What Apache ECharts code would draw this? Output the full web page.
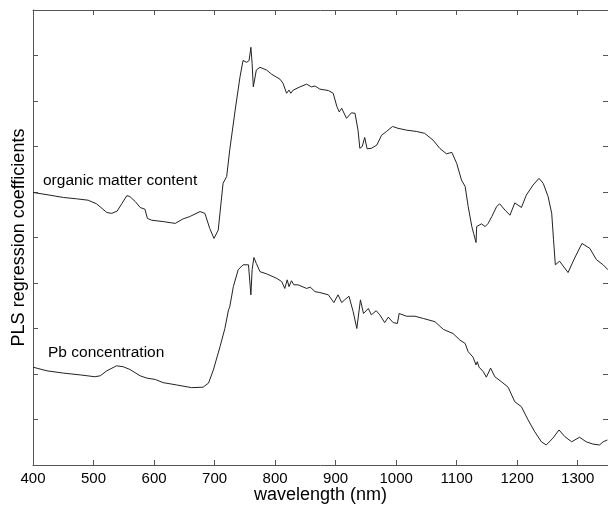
<!DOCTYPE html>
<html>
<head>
<meta charset="utf-8">
<script src="https://cdn.jsdelivr.net/npm/echarts@6/dist/echarts.min.js"></script>
<style>
  html, body { margin: 0; padding: 0; background: #fff; }
  #chart { width: 608px; height: 505px; }
</style>
</head>
<body>
<div id="chart"></div>
<script>
// PLS regression coefficient spectra (arbitrary, offset units)
const xTicks = [400, 500, 600, 700, 800, 900, 1000, 1100, 1200, 1300];

const omWavelength = [400, 428, 450, 472, 491, 505, 522, 530, 539, 547, 555, 560, 569, 577, 585, 589, 596, 615, 635, 648, 659, 676, 684, 692, 699, 706, 714, 720, 725, 734, 742, 747, 753, 757, 760, 762, 764, 767, 769, 775, 786, 794, 808, 813, 819, 823, 826, 830, 841, 852, 860, 866, 874, 888, 896, 902, 906, 910, 918, 926, 932, 937, 940, 944, 948, 952, 959, 968, 976, 984, 994, 1003, 1017, 1034, 1047, 1061, 1072, 1083, 1092, 1100, 1108, 1114, 1119, 1125, 1128, 1132, 1133, 1141, 1147, 1152, 1158, 1166, 1171, 1180, 1188, 1196, 1207, 1215, 1226, 1236, 1243, 1251, 1257, 1260, 1263, 1270, 1284, 1295, 1307, 1320, 1331, 1342, 1350];
const omCoef = [5.99, 5.93, 5.88, 5.85, 5.82, 5.74, 5.55, 5.53, 5.58, 5.75, 5.92, 5.90, 5.79, 5.66, 5.62, 5.42, 5.38, 5.35, 5.31, 5.41, 5.46, 5.57, 5.53, 5.20, 4.98, 5.16, 6.19, 6.34, 6.92, 7.80, 8.53, 8.89, 8.85, 8.89, 9.18, 8.83, 8.31, 8.35, 8.68, 8.74, 8.68, 8.59, 8.48, 8.39, 8.17, 8.24, 8.17, 8.24, 8.31, 8.37, 8.31, 8.33, 8.26, 8.23, 8.17, 7.88, 7.76, 7.84, 7.62, 7.74, 7.73, 7.36, 6.96, 7.00, 7.20, 6.95, 6.96, 7.03, 7.25, 7.33, 7.44, 7.40, 7.36, 7.33, 7.29, 7.14, 6.96, 6.84, 6.87, 6.63, 6.26, 6.12, 5.68, 5.24, 5.09, 4.89, 5.24, 5.30, 5.24, 5.31, 5.46, 5.68, 5.74, 5.60, 5.49, 5.76, 5.66, 5.93, 6.15, 6.30, 6.19, 5.90, 5.53, 4.95, 4.40, 4.48, 4.23, 4.55, 4.87, 4.76, 4.51, 4.40, 4.29];

const pbWavelength = [400, 423, 450, 478, 502, 511, 522, 538, 549, 560, 577, 588, 602, 615, 637, 662, 681, 690, 698, 709, 717, 723, 725, 731, 739, 747, 756, 757, 760, 762, 765, 769, 775, 786, 803, 811, 816, 820, 823, 827, 831, 838, 852, 858, 866, 874, 888, 891, 897, 904, 910, 915, 922, 929, 935, 941, 946, 954, 959, 967, 973, 981, 987, 995, 1002, 1005, 1017, 1031, 1045, 1064, 1078, 1094, 1105, 1114, 1119, 1127, 1132, 1134, 1137, 1144, 1149, 1156, 1163, 1174, 1185, 1196, 1207, 1218, 1229, 1240, 1248, 1259, 1269, 1279, 1290, 1303, 1314, 1325, 1336, 1342, 1349];
const pbCoef = [2.15, 2.07, 2.02, 1.98, 1.94, 1.96, 2.07, 2.18, 2.16, 2.10, 1.96, 1.91, 1.88, 1.81, 1.76, 1.70, 1.71, 1.80, 2.09, 2.60, 3.00, 3.41, 3.47, 3.92, 4.29, 4.40, 4.40, 4.36, 3.74, 4.29, 4.56, 4.43, 4.25, 4.20, 4.10, 4.03, 3.88, 4.07, 3.92, 4.05, 3.96, 3.96, 3.88, 3.91, 3.81, 3.79, 3.74, 3.74, 3.57, 3.74, 3.57, 3.63, 3.71, 3.37, 3.00, 3.63, 3.33, 3.44, 3.30, 3.39, 3.30, 3.13, 3.25, 3.13, 3.11, 3.33, 3.27, 3.27, 3.22, 3.15, 2.98, 2.89, 2.75, 2.67, 2.49, 2.37, 2.20, 2.27, 2.15, 2.05, 1.93, 2.13, 1.94, 1.83, 1.71, 1.39, 1.28, 0.99, 0.73, 0.51, 0.44, 0.59, 0.77, 0.62, 0.51, 0.61, 0.51, 0.46, 0.44, 0.51, 0.55];

const seriesLabels = ['organic matter content', 'Pb concentration'];

const zip = (xs, ys) => xs.map((x, i) => [x, ys[i]]);

const FONT = '"Liberation Sans", Arial, Helvetica, sans-serif';
const AXIS_COLOR = '#555';
const LINE_COLOR = '#222';

const chart = echarts.init(document.getElementById('chart'), null, { renderer: 'canvas' });

const xBase = {
  type: 'value', min: 400, max: 1350, interval: 100,
  axisLine: { show: true, onZero: false, lineStyle: { color: AXIS_COLOR, width: 1 } },
  axisTick: { show: true, inside: true, length: 5, lineStyle: { color: AXIS_COLOR } },
  splitLine: { show: false }
};
const yBase = {
  type: 'value', min: 0, max: 10, interval: 1,
  axisLine: { show: true, onZero: false, lineStyle: { color: AXIS_COLOR, width: 1 } },
  axisTick: { show: true, inside: true, length: 5, lineStyle: { color: AXIS_COLOR } },
  axisLabel: { show: false },
  splitLine: { show: false }
};

chart.setOption({
  animation: false,
  backgroundColor: '#fff',
  grid: { left: 33, right: 0, top: 10, bottom: 40, containLabel: false, outerBoundsMode: 'none' },
  xAxis: [
    Object.assign({}, xBase, {
      position: 'bottom',
      name: 'wavelength (nm)', nameLocation: 'middle', nameGap: 21, nameMoveOverlap: false,
      nameTextStyle: { fontFamily: FONT, fontSize: 18, color: '#000' },
      axisLabel: {
        show: true, margin: 6, fontFamily: FONT, fontSize: 15, color: '#000',
        formatter: v => (xTicks.indexOf(v) >= 0 ? String(v) : '')
      }
    }),
    Object.assign({}, xBase, { position: 'top', axisLabel: { show: false } })
  ],
  yAxis: [
    Object.assign({}, yBase, {
      position: 'left',
      name: 'PLS regression coefficients', nameLocation: 'middle', nameGap: 5, nameMoveOverlap: false,
      nameTextStyle: { fontFamily: FONT, fontSize: 18, color: '#000' }
    }),
    Object.assign({}, yBase, { position: 'right' })
  ],
  series: [
    {
      name: seriesLabels[0], type: 'line', showSymbol: false, smooth: false,
      data: zip(omWavelength, omCoef),
      lineStyle: { color: LINE_COLOR, width: 1 }
    },
    {
      name: seriesLabels[1], type: 'line', showSymbol: false, smooth: false,
      data: zip(pbWavelength, pbCoef),
      lineStyle: { color: LINE_COLOR, width: 1 }
    }
  ],
  graphic: [
    { type: 'text', left: 43, top: 173, style: { text: seriesLabels[0], font: '15.5px ' + FONT, fill: '#000' } },
    { type: 'text', left: 48, top: 345, style: { text: seriesLabels[1], font: '15.5px ' + FONT, fill: '#000' } }
  ]
});
</script>
</body>
</html>
